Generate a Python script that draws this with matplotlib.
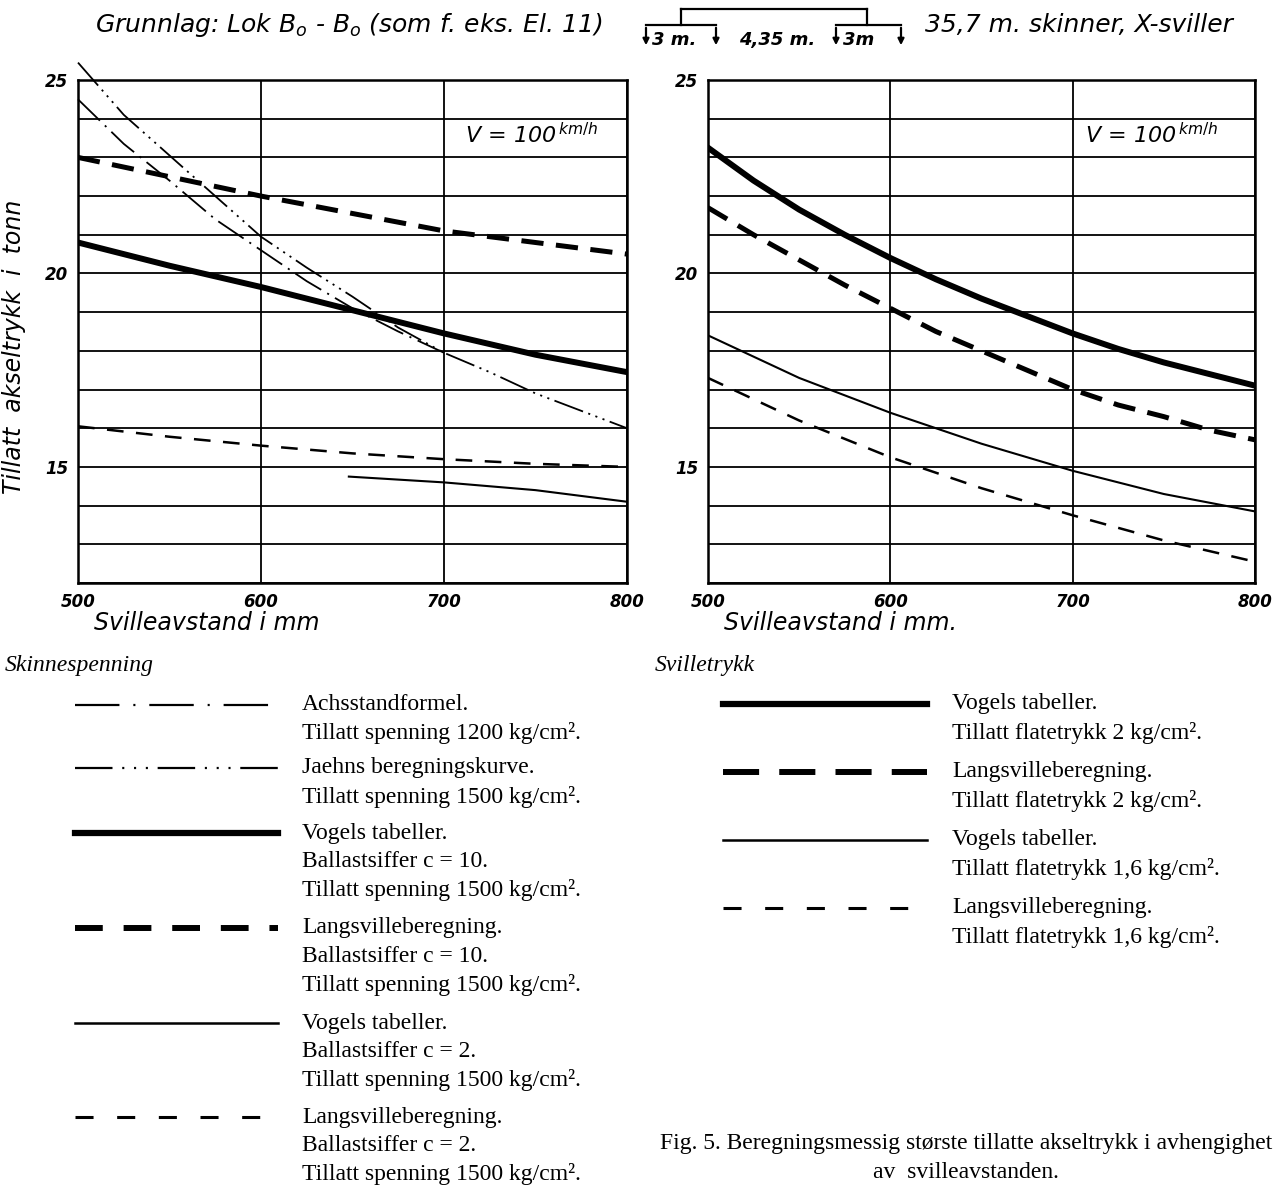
import numpy as np
import matplotlib
matplotlib.use("Agg")
import matplotlib.pyplot as plt
from matplotlib.lines import Line2D

plt.rcParams['lines.scale_dashes'] = False
plt.rcParams['mathtext.fontset'] = 'dejavusans'

W, H = 1285, 1185

# --- data (x = svilleavstand mm, y = tonn) ---
x_achs = [500, 525, 550, 575, 600, 625, 650, 675, 700]
y_achs = [24.5, 23.35, 22.4, 21.4, 20.6, 19.8, 19.1, 18.5, 17.95]

x_jaehns = [500, 525, 550, 575, 600, 625, 650, 675, 700, 725, 750, 775, 800]
y_jaehns = [25.45, 24.1, 23.05, 22.0, 20.95, 20.15, 19.4, 18.6, 17.95, 17.45, 16.9, 16.45, 16.0]

x_skinne = [500, 550, 600, 650, 700, 750, 800]
y_vogel10 = [20.8, 20.2, 19.65, 19.05, 18.45, 17.9, 17.45]
y_langs10 = [23.0, 22.5, 22.0, 21.55, 21.1, 20.8, 20.5]
y_langs2 = [16.05, 15.78, 15.55, 15.35, 15.2, 15.08, 15.0]

x_vogel2 = [648, 700, 750, 800]
y_vogel2 = [14.75, 14.6, 14.4, 14.1]

x_sville = [500, 525, 550, 575, 600, 625, 650, 675, 700, 725, 750, 775, 800]
y_vogel_2kg = [23.25, 22.4, 21.65, 21.0, 20.4, 19.85, 19.35, 18.9, 18.45, 18.05, 17.7, 17.4, 17.1]
y_langs_2kg = [21.7, 21.0, 20.35, 19.7, 19.1, 18.5, 18.0, 17.5, 17.0, 16.6, 16.3, 15.95, 15.7]

x_sville16 = [500, 550, 600, 650, 700, 750, 800]
y_vogel_16 = [18.4, 17.3, 16.4, 15.6, 14.9, 14.3, 13.85]
y_langs_16 = [17.3, 16.2, 15.25, 14.45, 13.75, 13.1, 12.55]

x_ticks = [500, 600, 700, 800]
y_ticks = [15, 20, 25]

hand = dict(family='DejaVu Sans', style='italic')
serif = 'Liberation Serif'
fs_serif = 17

# line styles
st_achs = dict(lw=1.3, linestyle=(0, (22, 5, 1.5, 5)))
st_jaehns = dict(lw=1.3, linestyle=(0, (22, 4, 1.5, 4, 1.5, 4, 1.5, 4)))
st_thick = dict(lw=4.3, linestyle='-')
st_thickdash = dict(lw=3.6, linestyle=(0, (16, 9)))
st_thin = dict(lw=1.5, linestyle='-')
st_thindash = dict(lw=1.8, linestyle=(0, (12, 9)))


def fx(px):
    return px / W


def fy(py):
    return 1 - py / H


def setup(ax, xlabel):
    ax.set_xlim(500, 800)
    ax.set_ylim(12, 25)
    ax.set_xticks(x_ticks)
    ax.set_yticks(y_ticks)
    ax.set_yticks(np.arange(12, 26), minor=True)
    ax.grid(True, which='both', axis='y', color='k', lw=1.3)
    ax.grid(True, which='major', axis='x', color='k', lw=1.3)
    ax.tick_params(length=0, which='both', pad=7)
    for lab in ax.get_xticklabels() + ax.get_yticklabels():
        lab.set_fontsize(12)
        lab.set_fontweight('bold')
        lab.set_fontstyle('italic')
    for s in ax.spines.values():
        s.set_linewidth(1.8)
    ax.set_xlabel(xlabel, fontsize=17, loc='left', **hand)
    ax.xaxis.set_label_coords(0.03, -0.055)
    ax.set_axisbelow(True)


fig = plt.figure(figsize=(W / 100, H / 100), dpi=100)
ax1 = fig.add_axes([fx(78), fy(583), (627 - 78) / W, (583 - 80) / H])
ax2 = fig.add_axes([fx(708), fy(583), (1255 - 708) / W, (583 - 80) / H])

setup(ax1, 'Svilleavstand i mm')
setup(ax2, 'Svilleavstand i mm.')
ax1.set_ylabel('Tillatt  akseltrykk  i  tonn', fontsize=17, **hand)
ax1.yaxis.set_label_coords(-0.095, 0.47)

ax1.plot(x_achs, y_achs, color='k', clip_on=False, **st_achs)
ax1.plot(x_jaehns, y_jaehns, color='k', clip_on=False, **st_jaehns)
ax1.plot(x_skinne, y_vogel10, color='k', **st_thick)
ax1.plot(x_skinne, y_langs10, color='k', **st_thickdash)
ax1.plot(x_skinne, y_langs2, color='k', **st_thindash)
ax1.plot(x_vogel2, y_vogel2, color='k', **st_thin)

ax2.plot(x_sville, y_vogel_2kg, color='k', **st_thick)
ax2.plot(x_sville, y_langs_2kg, color='k', **st_thickdash)
ax2.plot(x_sville16, y_vogel_16, color='k', **st_thin)
ax2.plot(x_sville16, y_langs_16, color='k', **st_thindash)

ax1.text(0.705, 0.875, r'V = 100$^{\,km/h}$', transform=ax1.transAxes, fontsize=16, **hand)
ax2.text(0.69, 0.875, r'V = 100$^{\,km/h}$', transform=ax2.transAxes, fontsize=16, **hand)

# header
fig.text(fx(95), fy(25), r'Grunnlag: Lok B$_o$ - B$_o$ (som f. eks. El. 11)', fontsize=18,
         va='center', **hand)
fig.text(fx(925), fy(25), '35,7 m. skinner, X-sviller', fontsize=18, va='center', **hand)

# wheel arrangement sketch
def fline(xs, ys, lw=1.6):
    fig.add_artist(Line2D([fx(v) for v in xs], [fy(v) for v in ys], color='k', lw=lw,
                          transform=fig.transFigure))

fline([681, 867], [9, 9])
fline([681, 681], [9, 25])
fline([867, 867], [9, 25])
fline([646, 716], [25, 25])
fline([836, 901], [25, 25])
for xa in [646, 716, 836, 901]:
    fig.add_artist(matplotlib.patches.FancyArrowPatch((fx(xa), fy(25)), (fx(xa), fy(48)),
                   transform=fig.transFigure, arrowstyle='-|>', mutation_scale=9,
                   color='k', lw=1.6))
fig.text(fx(652), fy(40), '3 m.', fontsize=13, va='center', weight='bold', **hand)
fig.text(fx(739), fy(40), '4,35 m.', fontsize=13, va='center', weight='bold', **hand)
fig.text(fx(843), fy(40), '3m', fontsize=13, va='center', weight='bold', **hand)

# legends
def entry(x0, x1, y, style, lines, tx):
    fig.add_artist(Line2D([fx(x0), fx(x1)], [fy(y), fy(y)], color='k',
                          transform=fig.transFigure, **style))
    for i, t in enumerate(lines):
        fig.text(fx(tx), fy(y + i * 28.5), t, fontsize=fs_serif, family=serif, va='center')

fig.text(fx(5), fy(665), 'Skinnespenning', fontsize=fs_serif, family=serif, style='italic',
         va='center')
fig.text(fx(655), fy(665), 'Svilletrykk', fontsize=fs_serif, family=serif, style='italic',
         va='center')

lg_achs = dict(lw=1.6, linestyle=(0, (32, 10, 1.5, 10)))
lg_jaehns = dict(lw=1.6, linestyle=(0, (27, 7, 1.5, 7, 1.5, 7, 1.5, 7)))
lg_thickdash = dict(lw=4.3, linestyle=(0, (20, 15)))
lg_thickdash2 = dict(lw=4.3, linestyle=(0, (26, 14.5)))
lg_thindash = dict(lw=2.2, linestyle=(0, (13, 17)))

entry(75, 278, 705, lg_achs, ['Achsstandformel.', 'Tillatt spenning 1200 kg/cm².'], 302)
entry(75, 278, 768, lg_jaehns, ['Jaehns beregningskurve.', 'Tillatt spenning 1500 kg/cm².'], 302)
entry(75, 278, 833, dict(lw=4.5), ['Vogels tabeller.', 'Ballastsiffer c = 10.',
                                   'Tillatt spenning 1500 kg/cm².'], 302)
entry(75, 278, 928, lg_thickdash, ['Langsvilleberegning.', 'Ballastsiffer c = 10.',
                                   'Tillatt spenning 1500 kg/cm².'], 302)
entry(75, 278, 1023, dict(lw=1.8), ['Vogels tabeller.', 'Ballastsiffer c = 2.',
                                    'Tillatt spenning 1500 kg/cm².'], 302)
entry(75, 278, 1117, lg_thindash, ['Langsvilleberegning.', 'Ballastsiffer c = 2.',
                                   'Tillatt spenning 1500 kg/cm².'], 302)

entry(723, 927, 704, dict(lw=4.5), ['Vogels tabeller.', 'Tillatt flatetrykk 2 kg/cm².'], 952)
entry(723, 927, 772, lg_thickdash2, ['Langsvilleberegning.', 'Tillatt flatetrykk 2 kg/cm².'], 952)
entry(723, 927, 840, dict(lw=1.8), ['Vogels tabeller.', 'Tillatt flatetrykk 1,6 kg/cm².'], 952)
entry(723, 927, 908, lg_thindash, ['Langsvilleberegning.', 'Tillatt flatetrykk 1,6 kg/cm².'], 952)

fig.text(fx(966), fy(1143), 'Fig. 5. Beregningsmessig største tillatte akseltrykk i avhengighet',
         fontsize=fs_serif, family=serif, ha='center', va='center')
fig.text(fx(966), fy(1172), 'av  svilleavstanden.', fontsize=fs_serif, family=serif,
         ha='center', va='center')

fig.savefig('out.png', dpi=100)
